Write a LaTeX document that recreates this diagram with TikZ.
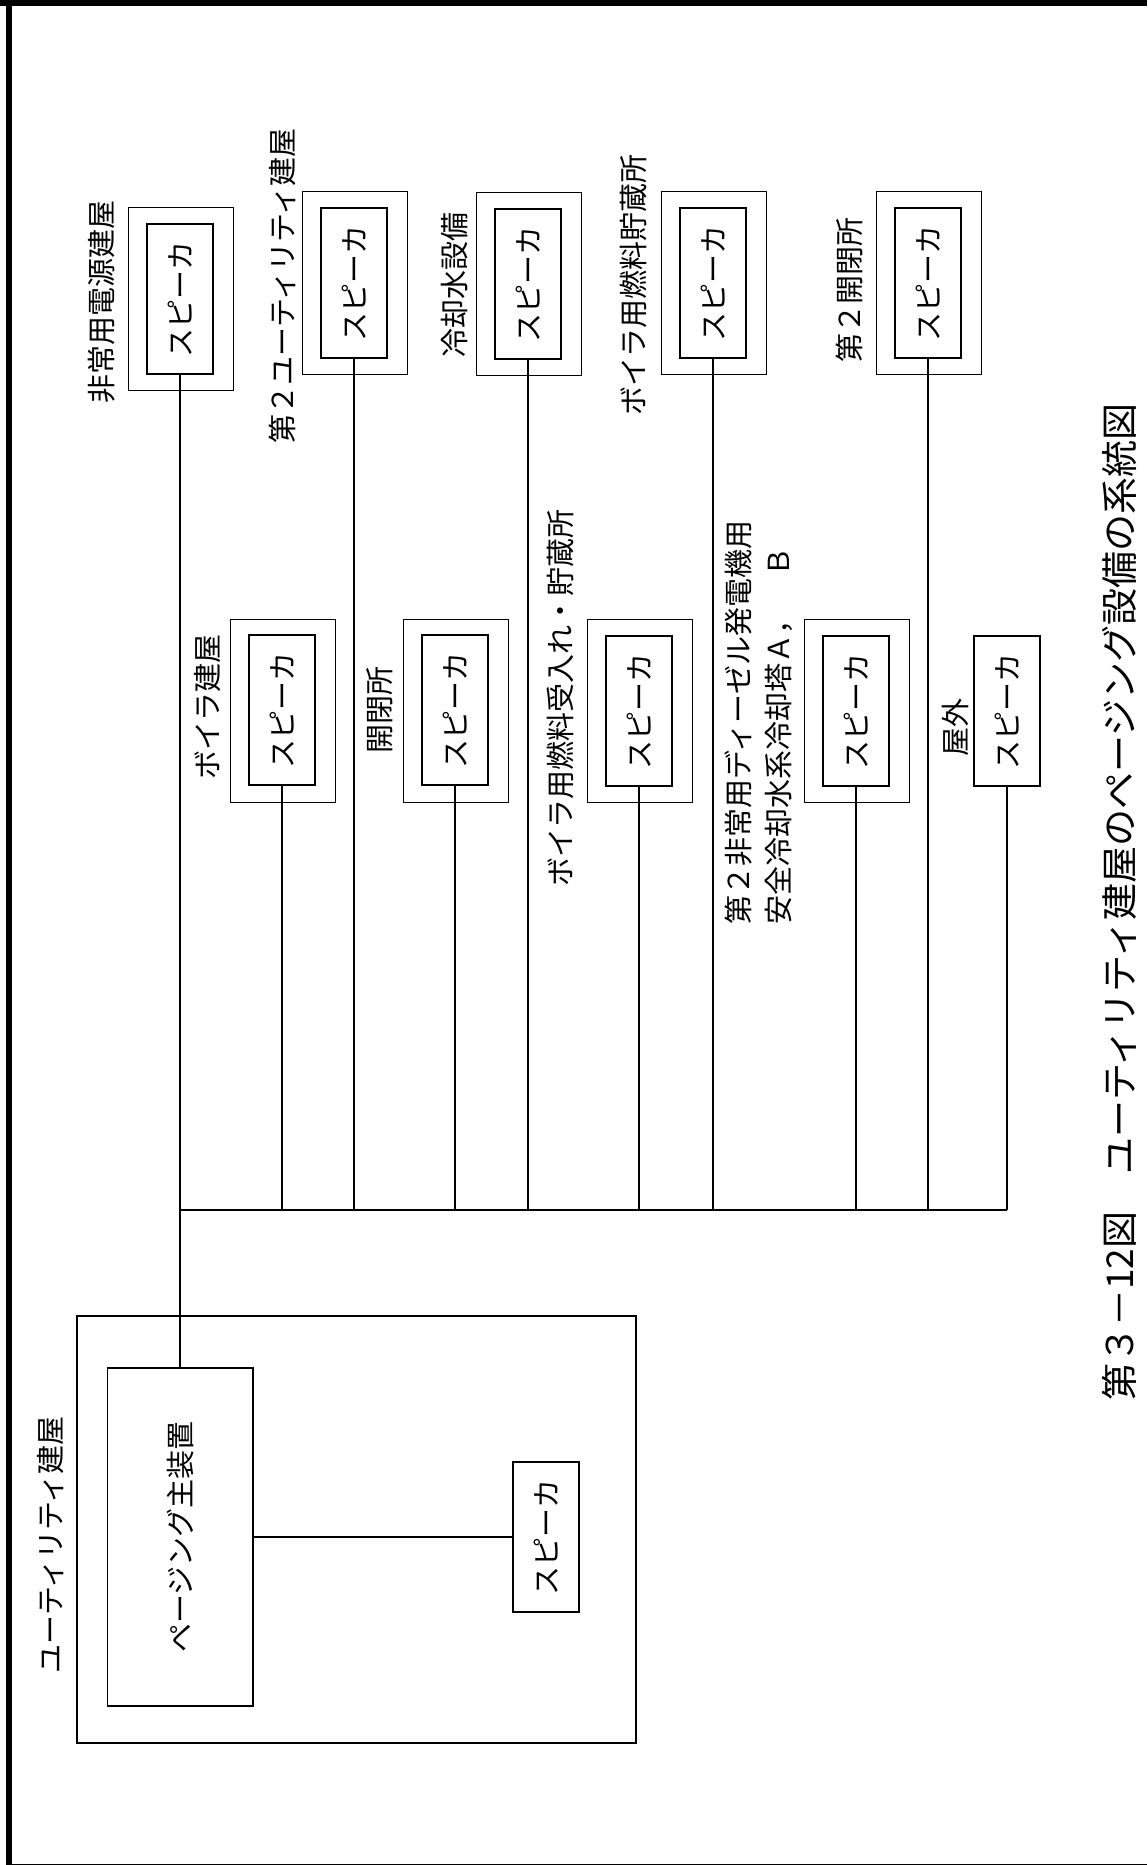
\documentclass[tikz,border=0pt]{standalone}
\usepackage{fontspec}
\setmainfont{Noto Sans CJK JP}
\newcommand\spktext{\rotatebox{90}{スピーカ}}
\begin{document}
\begin{tikzpicture}[x=0.5pt,y=-0.5pt,
  ln/.style={line width=0.75pt},
  outerbox/.style={draw,line width=0.8pt,inner sep=0pt,minimum width=52.5pt,minimum height=91.5pt},
  innerbox/.style={draw,line width=0.8pt,inner sep=0pt,minimum width=33pt,minimum height=75pt,font=\fontsize{14.5pt}{17pt}\selectfont},
  lbl/.style={rotate=90,inner sep=0pt,font=\fontsize{14.5pt}{17pt}\selectfont},
]
\useasboundingbox (0,0) rectangle (1147,1865);
% frame
\fill (0,0) rectangle (1147,6);
\fill (6,0) rectangle (12,1865);
\draw[line width=0.5pt] (12,1864) -- (1147,1864);

% utility building
\node[draw,line width=0.8pt,minimum width=279.5pt,minimum height=213.5pt,inner sep=0pt] (ub) at (356.5,1529.5) {};
\node[draw,line width=0.8pt,minimum width=72.75pt,minimum height=169pt,inner sep=0pt,font=\fontsize{14.5pt}{17pt}\selectfont] (main) at (180.25,1537) {\rotatebox{90}{ページング主装置}};
\node[innerbox] (s0) at (546,1537) {\spktext};
\node[lbl] (l0) at (51,1545) {ユーティリティ建屋};
\draw[ln] (main.east) -- (s0.west);

% upper row
\node[outerbox] (o1) at (181,299) {};
\node[innerbox] (s1) at (180,299) {\spktext};
\node[outerbox] (o2) at (355,283) {};
\node[innerbox] (s2) at (354,283) {\spktext};
\node[outerbox] (o3) at (529,284) {};
\node[innerbox] (s3) at (528,284) {\spktext};
\node[outerbox] (o4) at (714,283) {};
\node[innerbox] (s4) at (713,283) {\spktext};
\node[outerbox] (o5) at (929,283) {};
\node[innerbox] (s5) at (928,283) {\spktext};

% lower row
\node[outerbox] (o6) at (283,711) {};
\node[innerbox] (s6) at (282,710) {\spktext};
\node[outerbox] (o7) at (456,711) {};
\node[innerbox] (s7) at (455,710) {\spktext};
\node[outerbox] (o8) at (640,711) {};
\node[innerbox] (s8) at (639,711) {\spktext};
\node[outerbox] (o9) at (857,711) {};
\node[innerbox] (s9) at (856,711) {\spktext};
\node[innerbox] (s10) at (1007,711) {\spktext};

% labels
\node[lbl] (l1) at (102,302) {非常用電源建屋};
\node[lbl] (l2) at (282,286) {第２ユーティリティ建屋};
\node[lbl] (l3) at (454,285) {冷却水設備};
\node[lbl] (l4) at (633,285) {ボイラ用燃料貯蔵所};
\node[lbl] (l5) at (849,290) {第２開閉所};
\node[lbl] (l6) at (208,707) {ボイラ建屋};
\node[lbl] (l7) at (380,710) {開閉所};
\node[lbl] (l8) at (560,698) {ボイラ用燃料受入れ・貯蔵所};
\node[lbl,anchor=west,align=left,font=\fontsize{14.5pt}{20pt}\selectfont] (l9) at (759,925) {第２非常用ディーゼル発電機用\\安全冷却水系冷却塔Ａ，　Ｂ};
\node[lbl] (l10) at (955,727) {屋外};

% caption
\node[lbl,font=\fontsize{18.5pt}{20pt}\selectfont] (cap) at (1119,902) {第３－12図　ユーティリティ建屋のページング設備の系統図};

% bus and connectors
\coordinate (busL) at (180,1210);
\coordinate (busR) at (1007,1210);
\draw[ln] (busL) -- (busR);
\draw[ln] (s1.south) -- (s1.south |- main.north);
\foreach \n in {2,...,10}{
  \draw[ln] (s\n.south) -- (s\n.south |- busL);
}
\end{tikzpicture}
\end{document}
